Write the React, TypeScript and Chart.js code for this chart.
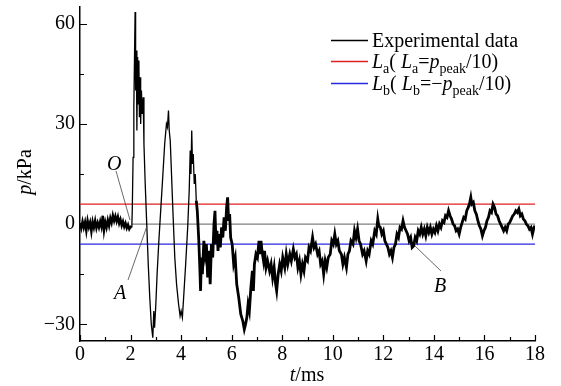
import React, { useEffect, useRef } from "react";
import { Chart, registerables } from "chart.js";

Chart.register(...registerables);

// time (ms) and pressure (kPa) samples
const timeMs: number[] = [
  0.0, 0.05, 0.1, 0.15, 0.2, 0.25, 0.3, 0.35, 0.4, 0.45, 0.5, 0.55, 0.6, 0.65, 0.7, 0.75, 0.8, 0.85, 0.9, 0.95,
  1.0, 1.05, 1.1, 1.15, 1.2, 1.25, 1.3, 1.35, 1.4, 1.45, 1.5, 1.55, 1.6, 1.65, 1.7, 1.75, 1.8, 1.85, 1.9, 1.95,
  2.0, 2.05,
  2.07, 2.1, 2.13, 2.18, 2.2, 2.23, 2.25, 2.28, 2.3, 2.33, 2.35, 2.38, 2.4, 2.43, 2.46, 2.5, 2.53, 2.58, 2.64,
  2.7, 2.76, 2.82, 2.88, 2.92, 2.95, 3.0, 3.05, 3.12, 3.2, 3.28, 3.35, 3.42, 3.46, 3.5, 3.53, 3.57, 3.62, 3.68,
  3.75, 3.82, 3.9, 3.96, 4.0, 4.05, 4.1, 4.18, 4.26, 4.32, 4.36, 4.39, 4.42, 4.45, 4.48, 4.52, 4.56, 4.6, 4.64,
  4.7, 4.74, 4.77, 4.8, 4.84, 4.9, 4.95, 5.0, 5.05, 5.1, 5.15, 5.2, 5.25, 5.3, 5.34, 5.38, 5.42, 5.46, 5.5, 5.55,
  5.6, 5.65, 5.7, 5.75, 5.8, 5.84, 5.88, 5.92, 5.96, 6.02, 6.08, 6.14, 6.2, 6.28, 6.36, 6.44, 6.5, 6.55, 6.6,
  6.65, 6.7, 6.76, 6.82, 6.86, 6.9, 6.96, 7.02, 7.08, 7.12, 7.16, 7.2, 7.26, 7.3, 7.36, 7.42, 7.5, 7.56, 7.62,
  7.68, 7.74, 7.78, 7.84, 7.9, 7.96, 8.02, 8.1, 8.16, 8.22, 8.3, 8.36, 8.44, 8.5, 8.56, 8.62, 8.68, 8.74, 8.8,
  8.86, 8.92, 9.0, 9.06, 9.12, 9.2, 9.26, 9.32, 9.4, 9.46, 9.52, 9.58, 9.64, 9.7, 9.76, 9.82, 9.9, 9.96, 10.02,
  10.08, 10.14, 10.2, 10.26, 10.34, 10.4, 10.46, 10.54, 10.6, 10.66, 10.72, 10.8, 10.86, 10.92, 10.98, 11.04,
  11.1, 11.18, 11.24, 11.32, 11.38, 11.44, 11.52, 11.58, 11.66, 11.72, 11.78, 11.82, 11.88, 11.94, 12.0, 12.06,
  12.12, 12.18, 12.24, 12.3, 12.36, 12.42, 12.48, 12.54, 12.6, 12.66, 12.72, 12.78, 12.84, 12.9, 12.96, 13.02,
  13.08, 13.14, 13.2, 13.26, 13.32, 13.38, 13.44, 13.5, 13.56, 13.62, 13.68, 13.74, 13.8, 13.86, 13.92, 13.98,
  14.04, 14.1, 14.16, 14.22, 14.28, 14.34, 14.4, 14.46, 14.52, 14.58, 14.64, 14.7, 14.76, 14.82, 14.88, 14.94,
  15.0, 15.06, 15.12, 15.18, 15.24, 15.3, 15.36, 15.42, 15.46, 15.5, 15.56, 15.62, 15.68, 15.74, 15.8, 15.86,
  15.92, 15.98, 16.04, 16.1, 16.16, 16.22, 16.28, 16.34, 16.4, 16.46, 16.52, 16.58, 16.64, 16.7, 16.76, 16.82,
  16.88, 16.94, 17.0, 17.06, 17.12, 17.18, 17.24, 17.3, 17.36, 17.42, 17.48, 17.54, 17.6, 17.66, 17.72, 17.78,
  17.84, 17.9, 17.96, 18.0,
];

const pressureKPa: number[] = [
  0.3, -1.2, 0.8, -1.0, 0.6, -2.0, 1.0, -0.9, 0.5, -2.2, 0.7, -1.0, 1.0, -1.2, 0.4, -1.0, 0.8, -0.8, 2.5, -1.9,
  0.6, -1.0, 1.2, -0.5, 1.8, 0.4, 2.6, 1.0, 2.4, 0.8, 2.2, 0.2, 1.4, -0.4, 0.8, -0.8, 0.3, -1.2, -0.2, -1.5,
  -0.8, -1.0,
  5, 20, 35, 63.5, 40, 52, 28, 50, 36, 49, 32, 44, 30, 40, 33, 38, 24, 12, 0,
  -12, -22, -30, -34, -26, -31, -24, -15, -5, 5, 15, 24, 30, 29, 34, 28, 25, 15, 3,
  -10, -18, -24, -27.5, -26, -28, -22, -12, -1, 10, 22, 15, 28, 18, 21, 12, 15, 7, 4,
  -5, -13, -20, -10, -15, -5, -9, -6, -16, -8, -18, -6, -10, 0, 4, -6, -2, -8, -3, -7,
  -1, -4, 2, -2, 5, 8, 1, 3, -4, -6, -12, -10, -18, -22, -27, -29, -31.5, -30, -28,
  -24, -26, -19, -14, -20, -12, -9, -10, -5, -9, -5, -8, -11, -8, -13, -11, -14, -12, -16,
  -13, -18, -20, -15, -12, -14, -10, -13, -9, -12, -9, -11, -7.5, -10, -9, -13, -11, -15, -12,
  -14, -10, -11, -7, -8, -4, -7, -6, -9, -8, -12, -11, -15, -11, -13, -10, -9, -5, -6,
  -3, -6, -5, -8, -9, -12, -10, -13, -9, -8, -5, -6, -2, -4, -1.5, -5,
  -6, -9, -8, -11, -8, -9, -5, -6, -2, -3, 1.5, -0.5, -1, -3, -2, -5,
  -6, -7, -9, -8, -10, -7, -6, -3, -4, -1, -1.5, 1, -1, -2, -3, -5,
  -4, -7, -6.5, -4, -5, -2, -3, -1, -3, -1.5, -3.5, -1, -2.5, -1, -3, -1.5,
  -2.5, -0.5, -2, 0, -1, 1, 0.5, 2.5, 2, 4, 2.5, 1.5, 0, -0.5, -2, -1.5,
  -3, -1, 0.5, 2, 1.5, 4, 5, 6.5, 8, 6, 6.5, 4, 3, 1, -0.5, -1.5,
  -3.5, -2, -1, 1, 2, 4, 3.5, 6, 5, 3, 2.5, 1, 0, -1, -2, -1,
  -2, 0, 0.5, 1.5, 2.5, 3, 4, 3.5, 4.5, 2.5, 3, 1.5, 1, 0, -0.5, -1.5,
  -1, -3, -1, -0.5,
];

const laLevel = 6.0; // L_a = p_peak / 10
const lbLevel = -6.0; // L_b = -p_peak / 10
const zeroLineStart = 2.05;

const xTickLabels = [0, 2, 4, 6, 8, 10, 12, 14, 16, 18];
const xMinorTicks = [1, 3, 5, 7, 9, 11, 13, 15, 17];
const yTickLabels = [-30, 0, 30, 60];
const yMinorTicks = [-15, 15, 45];

const SERIF = '"Liberation Serif", "DejaVu Serif", serif';
const FS = 20;

type Seg = { t: string; it?: boolean; sub?: boolean };

function drawRich(ctx: CanvasRenderingContext2D, x: number, y: number, segs: Seg[], measureOnly = false) {
  let cx = x;
  for (const s of segs) {
    const size = s.sub ? 14 : FS;
    ctx.font = `${s.it ? "italic " : ""}${size}px ${SERIF}`;
    if (!measureOnly) ctx.fillText(s.t, cx, s.sub ? y + 5 : y);
    cx += ctx.measureText(s.t).width;
  }
  return cx - x;
}

const decorPlugin = {
  id: "decor",
  afterDraw(chart: any) {
    const ctx: CanvasRenderingContext2D = chart.ctx;
    const xs = chart.scales.x;
    const ys = chart.scales.y;
    const { left, bottom } = chart.chartArea;
    ctx.save();
    ctx.strokeStyle = "#000";
    ctx.fillStyle = "#000";
    ctx.lineWidth = 1.2;
    // inward ticks
    ctx.beginPath();
    for (const v of xTickLabels) {
      const px = Math.round(xs.getPixelForValue(v)) + 0.5;
      ctx.moveTo(px, bottom);
      ctx.lineTo(px, bottom - 6);
    }
    for (const v of xMinorTicks) {
      const px = Math.round(xs.getPixelForValue(v)) + 0.5;
      ctx.moveTo(px, bottom);
      ctx.lineTo(px, bottom - 4);
    }
    for (const v of yTickLabels) {
      const py = Math.round(ys.getPixelForValue(v)) + 0.5;
      ctx.moveTo(left, py);
      ctx.lineTo(left + 7, py);
    }
    for (const v of yMinorTicks) {
      const py = Math.round(ys.getPixelForValue(v)) + 0.5;
      ctx.moveTo(left, py);
      ctx.lineTo(left + 4, py);
    }
    ctx.stroke();

    // axis titles
    ctx.textBaseline = "alphabetic";
    const xTitle: Seg[] = [{ t: "t", it: true }, { t: "/ms" }];
    const wx = drawRich(ctx, 0, 0, xTitle, true);
    drawRich(ctx, 307 - wx / 2, 381, xTitle);
    const yTitle: Seg[] = [{ t: "p", it: true }, { t: "/kPa" }];
    const wy = drawRich(ctx, 0, 0, yTitle, true);
    ctx.save();
    ctx.translate(31, 172);
    ctx.rotate(-Math.PI / 2);
    drawRich(ctx, -wy / 2, 0, yTitle);
    ctx.restore();

    // leader lines and point labels
    ctx.strokeStyle = "#444";
    ctx.lineWidth = 0.8;
    ctx.beginPath();
    ctx.moveTo(116, 171);
    ctx.lineTo(130, 220);
    ctx.moveTo(128, 280);
    ctx.lineTo(147, 226);
    ctx.moveTo(415, 246);
    ctx.lineTo(441, 271);
    ctx.stroke();
    ctx.fillStyle = "#000";
    ctx.font = `italic ${FS}px ${SERIF}`;
    ctx.fillText("O", 107, 170);
    ctx.fillText("A", 114, 299);
    ctx.fillText("B", 434, 292);

    // legend
    const rows: { color: string; y: number; segs: Seg[] }[] = [
      { color: "#000000", y: 40, segs: [{ t: "Experimental data" }] },
      {
        color: "#e02020",
        y: 61,
        segs: [
          { t: "L", it: true }, { t: "a", sub: true }, { t: "( " }, { t: "L", it: true }, { t: "a", sub: true },
          { t: "=" }, { t: "p", it: true }, { t: "peak", sub: true }, { t: "/10)" },
        ],
      },
      {
        color: "#2828e0",
        y: 83,
        segs: [
          { t: "L", it: true }, { t: "b", sub: true }, { t: "( " }, { t: "L", it: true }, { t: "b", sub: true },
          { t: "=\u2212" }, { t: "p", it: true }, { t: "peak", sub: true }, { t: "/10)" },
        ],
      },
    ];
    for (const r of rows) {
      ctx.save();
      ctx.strokeStyle = r.color;
      ctx.lineWidth = 1.5;
      ctx.beginPath();
      ctx.moveTo(331, r.y + 0.5);
      ctx.lineTo(368, r.y + 0.5);
      ctx.stroke();
      ctx.restore();
      ctx.fillStyle = "#000";
      drawRich(ctx, 372, r.y + 7, r.segs);
    }
    ctx.restore();
  },
};

export default function App() {
  const ref = useRef<HTMLCanvasElement | null>(null);
  useEffect(() => {
    document.body.style.margin = "0";
    if (!ref.current) return;
    const expData = timeMs.map((t, i) => ({ x: t, y: pressureKPa[i] }));
    const chart = new Chart(ref.current, {
      type: "scatter",
      data: {
        datasets: [
          {
            label: "Experimental data",
            data: expData,
            showLine: true,
            borderColor: "#000",
            borderWidth: 1.6,
            pointRadius: 0,
            segment: {
              borderWidth: (c: any) => {
                const x0 = c.p0.parsed.x;
                if (x0 < 2.05) return 2.4;
                if (x0 < 4.6) return 1.3;
                return 2.8;
              },
            },
          },
          {
            label: "La",
            data: [{ x: 0, y: laLevel }, { x: 18, y: laLevel }],
            showLine: true,
            borderColor: "#e02020",
            borderWidth: 1.2,
            pointRadius: 0,
          },
          {
            label: "Lb",
            data: [{ x: 0, y: lbLevel }, { x: 18, y: lbLevel }],
            showLine: true,
            borderColor: "#2828e0",
            borderWidth: 1.2,
            pointRadius: 0,
          },
          {
            label: "zero",
            data: [{ x: zeroLineStart, y: 0 }, { x: 18, y: 0 }],
            showLine: true,
            borderColor: "#808080",
            borderWidth: 1.2,
            pointRadius: 0,
          },
        ],
      },
      options: {
        responsive: false,
        animation: false,
        devicePixelRatio: 1,
        layout: { padding: { top: 7, right: 26, left: 0, bottom: 0 } },
        plugins: { legend: { display: false }, tooltip: { enabled: false } },
        scales: {
          x: {
            type: "linear",
            min: 0,
            max: 18,
            grid: { display: false, drawTicks: false },
            border: { display: true, color: "#000", width: 1.5 },
            ticks: { color: "#000", font: { family: SERIF, size: FS }, padding: 2, maxRotation: 0 },
            afterBuildTicks: (s: any) => {
              s.ticks = xTickLabels.map((v) => ({ value: v }));
            },
            afterFit: (s: any) => {
              s.height = 45;
              s.paddingLeft = 0;
            },
          },
          y: {
            type: "linear",
            min: -35,
            max: 65,
            grid: { display: false, drawTicks: false },
            border: { display: true, color: "#000", width: 1.5 },
            ticks: {
              color: "#000",
              font: { family: SERIF, size: FS },
              padding: 5,
              callback: (v: any) => String(v).replace("-", "\u2212"),
            },
            afterBuildTicks: (s: any) => {
              s.ticks = yTickLabels.map((v) => ({ value: v }));
            },
            afterFit: (s: any) => {
              s.width = 80;
              s.paddingTop = 0;
              s.paddingBottom = 0;
            },
          },
        },
      } as any,
      plugins: [decorPlugin],
    });
    return () => chart.destroy();
  }, []);
  return (
    <div style={{ width: 561, height: 386, background: "#fff" }}>
      <canvas ref={ref} width={561} height={386} />
    </div>
  );
}
